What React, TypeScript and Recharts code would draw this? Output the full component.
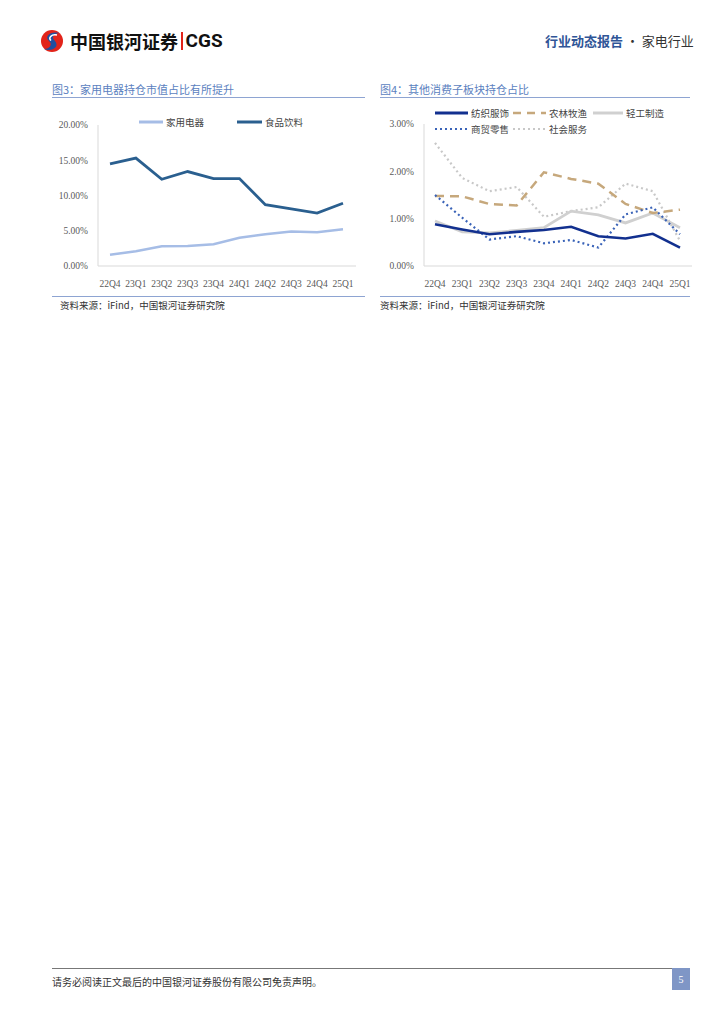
import React from 'react';
import { LineChart, Line, XAxis, YAxis } from 'recharts';

const quarters = ['22Q4', '23Q1', '23Q2', '23Q3', '23Q4', '24Q1', '24Q2', '24Q3', '24Q4', '25Q1'];

// 图3
const appliances = [1.6, 2.1, 2.8, 2.85, 3.1, 4.0, 4.5, 4.9, 4.8, 5.2];
const foodBeverage = [14.5, 15.3, 12.3, 13.4, 12.4, 12.4, 8.7, 8.1, 7.5, 8.9];
const leftTicks = [0, 5, 10, 15, 20];

// 图4
const textile = [0.88, 0.77, 0.67, 0.72, 0.76, 0.83, 0.63, 0.58, 0.68, 0.39];
const agriculture = [1.48, 1.47, 1.31, 1.28, 1.98, 1.84, 1.74, 1.31, 1.12, 1.19];
const lightIndustry = [0.95, 0.72, 0.7, 0.75, 0.81, 1.16, 1.08, 0.91, 1.12, 0.81];
const retail = [1.5, 1.02, 0.56, 0.63, 0.48, 0.55, 0.39, 1.09, 1.24, 0.67];
const socialService = [2.6, 1.86, 1.58, 1.67, 1.04, 1.16, 1.24, 1.74, 1.58, 0.53];
const rightTicks = [0, 1, 2, 3];

const leftData = quarters.map((q, i) => ({ q, appliances: appliances[i], food: foodBeverage[i] }));
const rightData = quarters.map((q, i) => ({
  q,
  textile: textile[i],
  agriculture: agriculture[i],
  light: lightIndustry[i],
  retail: retail[i],
  social: socialService[i],
}));

const CJK = '"Noto Sans CJK SC", "Noto Sans", sans-serif';
const SERIF = '"Liberation Serif", "DejaVu Serif", serif';
const tickStyle = { fontSize: 9.5, fill: '#595959', fontFamily: SERIF };
const axisLine = { stroke: '#D9D9D9' };
const pct = (v: number) => `${v.toFixed(2)}%`;

const LegendItem = ({ x, y, w, color, dash, width, label }: any) => (
  <div style={{ position: 'absolute', left: x, top: y - 7, height: 14, display: 'flex', alignItems: 'center' }}>
    <svg width={w} height={6} style={{ marginRight: 3 }}>
      <line x1={0} y1={3} x2={w} y2={3} stroke={color} strokeWidth={width} strokeDasharray={dash} />
    </svg>
    <span style={{ fontSize: 9.5, color: '#444', fontFamily: CJK }}>{label}</span>
  </div>
);

const abs = (left: number, top: number, extra: React.CSSProperties = {}): React.CSSProperties => ({
  position: 'absolute',
  left,
  top,
  ...extra,
});

const App: React.FC = () => {
  return (
    <div style={{ position: 'absolute', left: 0, top: 0, width: 724, height: 1024, background: '#fff', overflow: 'hidden', fontFamily: CJK }}>
      {/* header */}
      <svg style={abs(40, 29)} width={24} height={24} viewBox="0 0 24 24">
        <circle cx={12} cy={12} r={11} fill="#E2231A" />
        <path d="M19 4 C 10 2, 4 8, 9 12 C 13 15, 10 20, 4 20 C 12 23, 20 18, 15 12 C 11 8, 13 5, 19 4 Z" fill="#1F4FA0" />
        <path d="M17 6 C 11 5, 8 9, 11 11.5" fill="none" stroke="#fff" strokeWidth={1.6} />
      </svg>
      <div style={abs(70, 29, { fontSize: 18, fontWeight: 700, color: '#111', lineHeight: '24px', display: 'flex', alignItems: 'center' })}>
        <span>中国银河证券</span>
        <span style={{ display: 'inline-block', width: 1.5, height: 18, background: '#E2231A', margin: '0 3px' }} />
        <span style={{ fontFamily: 'Roboto, sans-serif', fontSize: 19 }}>CGS</span>
      </div>
      <div style={abs(545, 32, { fontSize: 13, lineHeight: '18px', whiteSpace: 'nowrap' })}>
        <span style={{ color: '#2F5597', fontWeight: 700 }}>行业动态报告</span>
        <span style={{ color: '#333' }}> · 家电行业</span>
      </div>

      {/* 图3 */}
      <div style={abs(52, 81, { fontSize: 11, color: '#5B7FC0', lineHeight: '16px' })}>图3：家用电器持仓市值占比有所提升</div>
      <div style={abs(52, 97, { width: 313, height: 1, background: '#8EA4D2' })} />
      <LegendItem x={139} y={122} w={24} color="#A6BDE6" width={3} label="家用电器" />
      <LegendItem x={237} y={122} w={25} color="#2A5F8F" width={3} label="食品饮料" />
      <div style={abs(50, 100)}>
        <LineChart width={315} height={200} data={leftData} margin={{ top: 25, right: 9, bottom: 4, left: 0 }}>
          <XAxis
            dataKey="q"
            tick={tickStyle}
            tickLine={false}
            axisLine={axisLine}
            height={30}
            tickMargin={8}
            interval={0}
            padding={{ left: 12, right: 13 }}
          />
          <YAxis
            domain={[0, 20]}
            ticks={leftTicks}
            tickFormatter={pct}
            tick={tickStyle}
            tickLine={false}
            axisLine={axisLine}
            width={48}
            tickMargin={4}
          />
          <Line dataKey="appliances" stroke="#A6BDE6" strokeWidth={2.5} dot={false} isAnimationActive={false} />
          <Line dataKey="food" stroke="#2A5F8F" strokeWidth={2.8} dot={false} isAnimationActive={false} />
        </LineChart>
      </div>
      <div style={abs(52, 296, { width: 313, height: 1, background: '#8EA4D2' })} />
      <div style={abs(60, 298, { fontSize: 9.5, color: '#333', lineHeight: '14px' })}>资料来源：iFind，中国银河证券研究院</div>

      {/* 图4 */}
      <div style={abs(380, 81, { fontSize: 11, color: '#5B7FC0', lineHeight: '16px' })}>图4：其他消费子板块持仓占比</div>
      <div style={abs(380, 97, { width: 310, height: 1, background: '#8EA4D2' })} />
      <LegendItem x={435} y={113} w={33} color="#12308F" width={3} label="纺织服饰" />
      <LegendItem x={513} y={113} w={33} color="#C6A87C" width={2.5} dash="8 6" label="农林牧渔" />
      <LegendItem x={593} y={113} w={30} color="#D0D0D0" width={3} label="轻工制造" />
      <LegendItem x={435} y={129} w={33} color="#3A63B8" width={2.2} dash="2 3" label="商贸零售" />
      <LegendItem x={513} y={129} w={33} color="#C8C8C8" width={2.2} dash="2 3" label="社会服务" />
      <div style={abs(375, 99)}>
        <LineChart width={325} height={201} data={rightData} margin={{ top: 25, right: 8, bottom: 4, left: 0 }}>
          <XAxis
            dataKey="q"
            tick={tickStyle}
            tickLine={false}
            axisLine={axisLine}
            height={30}
            tickMargin={8}
            interval={0}
            padding={{ left: 11, right: 12 }}
          />
          <YAxis
            domain={[0, 3]}
            ticks={rightTicks}
            tickFormatter={pct}
            tick={tickStyle}
            tickLine={false}
            axisLine={axisLine}
            width={49}
            tickMargin={4}
          />
          <Line dataKey="social" stroke="#C8C8C8" strokeWidth={2.2} strokeDasharray="2 3" dot={false} isAnimationActive={false} />
          <Line dataKey="light" stroke="#D0D0D0" strokeWidth={2.8} dot={false} isAnimationActive={false} />
          <Line dataKey="agriculture" stroke="#C6A87C" strokeWidth={2.5} strokeDasharray="9 6" dot={false} isAnimationActive={false} />
          <Line dataKey="retail" stroke="#3A63B8" strokeWidth={2.2} strokeDasharray="2 3" dot={false} isAnimationActive={false} />
          <Line dataKey="textile" stroke="#12308F" strokeWidth={2.6} dot={false} isAnimationActive={false} />
        </LineChart>
      </div>
      <div style={abs(380, 296, { width: 310, height: 1, background: '#8EA4D2' })} />
      <div style={abs(380, 298, { fontSize: 9.5, color: '#333', lineHeight: '14px' })}>资料来源：iFind，中国银河证券研究院</div>

      {/* footer */}
      <div style={abs(52, 968, { width: 620, height: 1, background: '#777' })} />
      <div style={abs(52, 975, { fontSize: 10, color: '#333', lineHeight: '14px' })}>请务必阅读正文最后的中国银河证券股份有限公司免责声明。</div>
      <div
        style={abs(672, 968, {
          width: 18,
          height: 22,
          background: '#7F96C6',
          color: '#fff',
          fontSize: 10,
          fontFamily: SERIF,
          display: 'flex',
          alignItems: 'center',
          justifyContent: 'center',
        })}
      >
        5
      </div>
    </div>
  );
};

export default App;
